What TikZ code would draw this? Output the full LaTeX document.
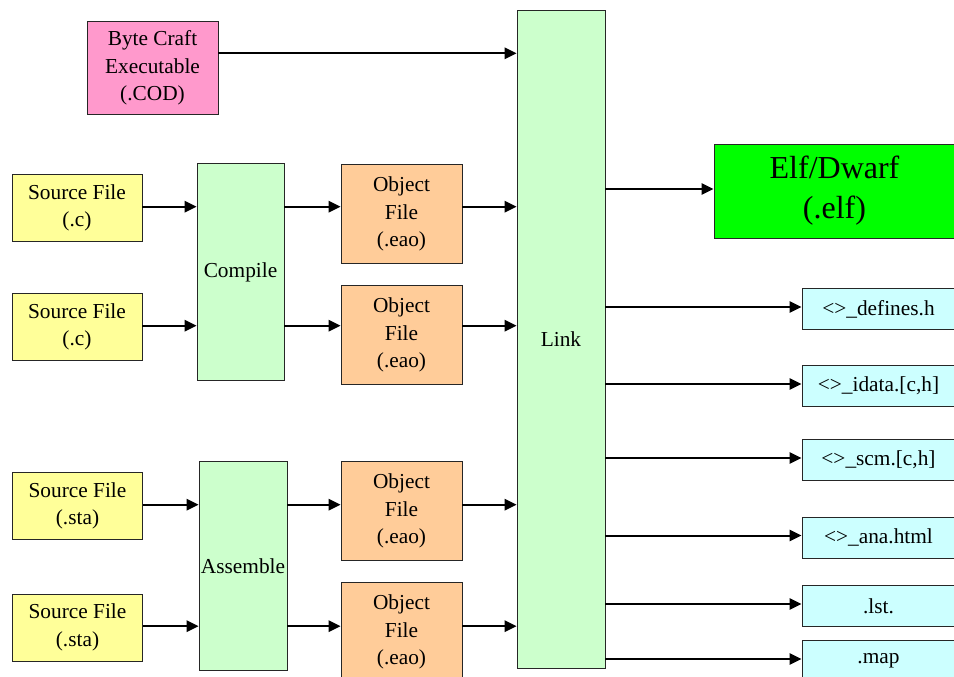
\documentclass[tikz,border=0pt]{standalone}
\usepackage{fontspec}
\setmainfont{Liberation Serif}
\usetikzlibrary{arrows.meta}
\definecolor{bcpink}{HTML}{FF99CC}
\definecolor{srcyellow}{HTML}{FFFF99}
\definecolor{stepgreen}{HTML}{CCFFCC}
\definecolor{objorange}{HTML}{FFCC99}
\definecolor{elfgreen}{HTML}{00FF00}
\definecolor{outcyan}{HTML}{CCFFFF}
\begin{document}
\begin{tikzpicture}[x=0.75pt, y={(0pt,-0.75pt)}, >={Triangle[length=9pt,width=8.5pt]},
    box/.style={draw=black!85, line width=0.7pt, align=center, inner sep=0pt,
        font=\fontsize{16}{20.5}\selectfont},
    srcbox/.style={box, fill=srcyellow, minimum width=97.5pt, minimum height=50.25pt},
    objbox/.style={box, fill=objorange, minimum width=90.75pt, minimum height=74.25pt},
    stepbox/.style={box, fill=stepgreen},
    outbox/.style={box, fill=outcyan, minimum width=114.75pt, minimum height=30.75pt},
    flow/.style={->, line width=1.5pt}]
    \clip (0,0) rectangle (954,677);

    % Inputs
    \node[box, fill=bcpink, minimum width=98.25pt, minimum height=69.75pt] (bce) at (152.5,68)
        {Byte Craft\\Executable\\(.COD)};
    \node[srcbox] (src1) at (77,208) {Source File\\(.c)};
    \node[srcbox] (src2) at (77,327) {Source File\\(.c)};
    \node[srcbox] (src3) at (77.5,506) {Source File\\(.sta)};
    \node[srcbox] (src4) at (77.5,627.5) {Source File\\(.sta)};

    % Tools
    \node[stepbox, minimum width=65.25pt, minimum height=162.75pt] (cmp) at (240.5,272) {Compile};
    \node[stepbox, minimum width=66pt, minimum height=156.75pt] (asm) at (243,566) {Assemble};
    \node[stepbox, minimum width=66pt, minimum height=493.5pt] (link) at (561,339) {Link};

    % Object files
    \node[objbox] (obj1) at (401.5,214) {Object\\File\\(.eao)};
    \node[objbox] (obj2) at (401.5,335) {Object\\File\\(.eao)};
    \node[objbox] (obj3) at (401.5,511) {Object\\File\\(.eao)};
    \node[objbox] (obj4) at (401.5,632) {Object\\File\\(.eao)};

    % Outputs
    \node[box, fill=elfgreen, minimum width=180.75pt, minimum height=70.5pt,
        font=\fontsize{24}{30}\selectfont] (elf) at (834.5,191) {Elf/Dwarf\\(.elf)};
    \node[outbox] (def) at (878.5,309) {<>\_defines.h};
    \node[outbox] (idata) at (878.5,386) {<>\_idata.[c,h]};
    \node[outbox] (scm) at (878.5,460) {<>\_scm.[c,h]};
    \node[outbox] (ana) at (878.5,537.5) {<>\_ana.html};
    \node[outbox] (lst) at (878.5,606) {.lst.};
    \node[outbox] (map) at (878.5,661) {.map};

    % Arrows
    \coordinate (bcout) at ([yshift=11pt]bce.east);
    \draw[flow] (bcout) -- (bcout -| link.west);
    \foreach \s/\t/\o in {src1/cmp/obj1, src2/cmp/obj2, src3/asm/obj3, src4/asm/obj4} {
        \draw[flow] ([yshift=1pt]\s.east) -- ([yshift=1pt]\s.east -| \t.west);
        \draw[flow] ([yshift=1pt]\t.east |- \s) -- ([yshift=1pt]\o.west |- \s);
        \draw[flow] ([yshift=1pt]\o.east |- \s) -- ([yshift=1pt]link.west |- \s);
    }
    \foreach \o in {elf, def, idata, scm, ana, lst, map} {
        \draw[flow] ([yshift=1.5pt]link.east |- \o) -- ([yshift=1.5pt]\o.west);
    }
\end{tikzpicture}
\end{document}
